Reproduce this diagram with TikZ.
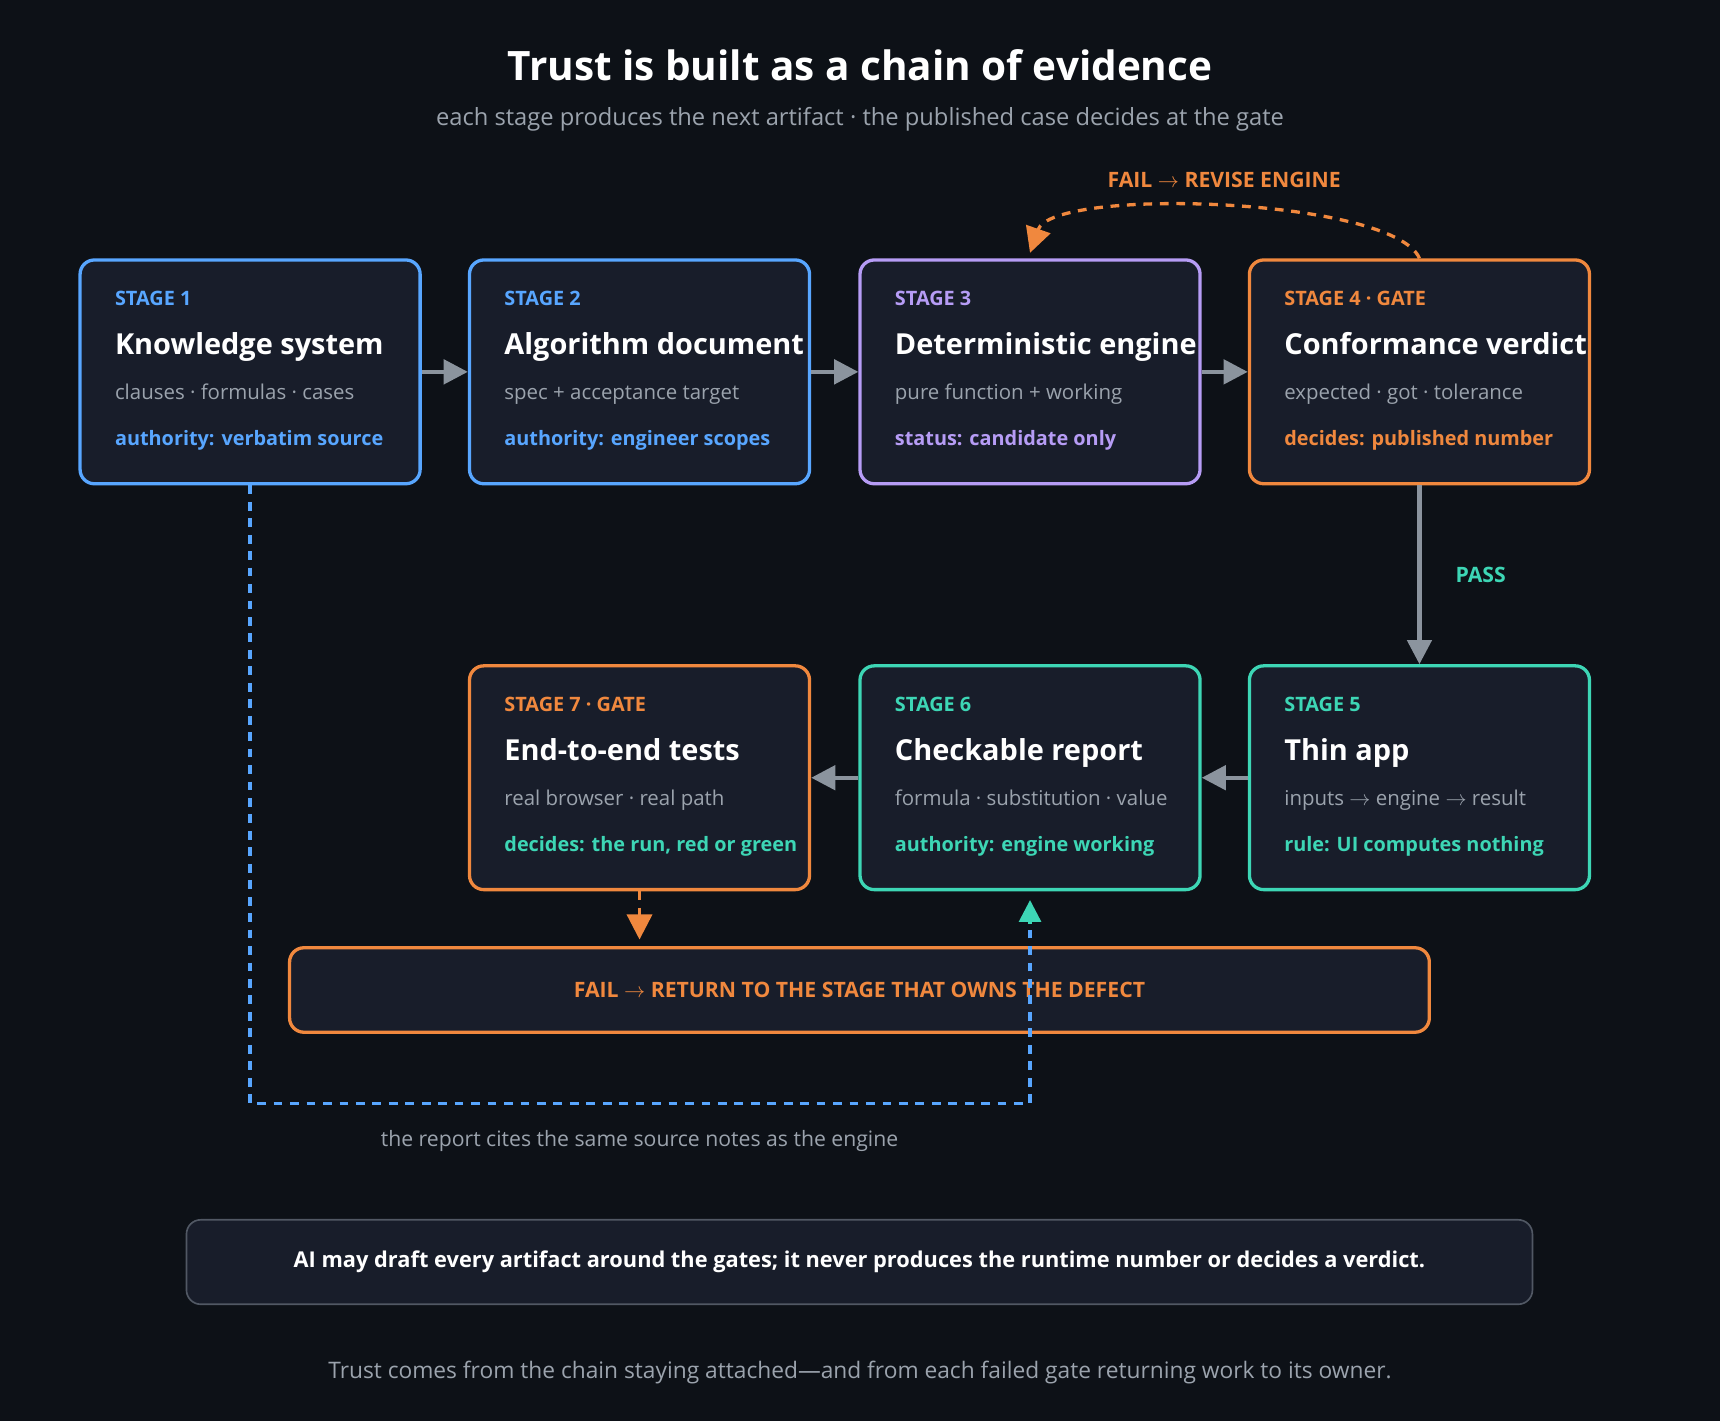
\documentclass[tikz,border=0pt]{standalone}
\usepackage{fontspec}
\setmainfont{Open Sans}
\usetikzlibrary{arrows.meta,positioning}
\definecolor{bg}{HTML}{0D1117}
\definecolor{boxbg}{HTML}{181D2A}
\definecolor{cblue}{HTML}{58A6FF}
\definecolor{cpurple}{HTML}{B69CF5}
\definecolor{corange}{HTML}{F0883E}
\definecolor{cteal}{HTML}{3DD6B5}
\definecolor{cgray}{HTML}{8B949E}
\definecolor{ctext}{HTML}{9BA3AD}
\newcommand{\ar}{$\rightarrow$}
\tikzset{
  stage/.style={draw=#1, line width=0.6mm, rounded corners=2.6mm, fill=boxbg,
    minimum width=62mm, minimum height=40.8mm, inner sep=0pt},
  lbl/.style={anchor=base west, inner sep=0pt, font=\fontsize{10.3}{12}\selectfont\bfseries},
  ttl/.style={anchor=base west, inner sep=0pt, text=white, font=\fontsize{15}{18}\selectfont\bfseries},
  sub/.style={anchor=base west, inner sep=0pt, text=ctext, font=\fontsize{10.6}{13}\selectfont},
  flow/.style={draw=cgray, line width=0.8mm, -{Triangle[length=4.4mm,width=4.4mm]}},
  dashline/.style={line width=0.6mm, dash pattern=on 1.6mm off 1.4mm},
}
% one stage box with its four lines of text
\newcommand{\stagebox}[7]{%
  \node[stage=#3] (#1) at #2 {};
  \node[lbl, text=#3] (#1l) at ([xshift=6.6mm,yshift=-8.6mm]#1.north west) {#4};
  \node[ttl] (#1t) at ([xshift=6.6mm,yshift=-17.6mm]#1.north west) {#5};
  \node[sub] (#1s) at ([xshift=6.6mm,yshift=-25.8mm]#1.north west) {#6};
  \node[lbl, text=#3] (#1a) at ([xshift=6.6mm,yshift=-34.2mm]#1.north west) {#7};
}
\begin{document}
\begin{tikzpicture}[x=0.2mm,y=-0.2mm]
\useasboundingbox[fill=bg] (0,0) rectangle (1568,1295);
\node[text=white, font=\fontsize{21}{25}\selectfont\bfseries] (title) at (784,59) {Trust is built as a chain of evidence};
\node[text=ctext, font=\fontsize{12.3}{15}\selectfont] (subtitle) at (784,109) {each stage produces the next artifact · the published case decides at the gate};

\stagebox{s1}{(228,339)}{cblue}{STAGE 1}{Knowledge system}{clauses · formulas · cases}{authority: verbatim source}
\stagebox{s2}{(583,339)}{cblue}{STAGE 2}{Algorithm document}{spec + acceptance target}{authority: engineer scopes}
\stagebox{s3}{(939,339)}{cpurple}{STAGE 3}{Deterministic engine}{pure function + working}{status: candidate only}
\stagebox{s4}{(1294,339)}{corange}{STAGE 4 · GATE}{Conformance verdict}{expected · got · tolerance}{decides: published number}
\stagebox{s7}{(583,709)}{corange}{STAGE 7 · GATE}{End-to-end tests}{real browser · real path}{\color{cteal}decides: the run, red or green}
\stagebox{s6}{(939,709)}{cteal}{STAGE 6}{Checkable report}{formula · substitution · value}{authority: engine working}
\stagebox{s5}{(1294,709)}{cteal}{STAGE 5}{Thin app}{inputs \ar{} engine \ar{} result}{rule: UI computes nothing}

% main chain
\draw[flow] (s1) -- (s2);
\draw[flow] (s2) -- (s3);
\draw[flow] (s3) -- (s4);
\draw[flow] (s4) -- node[right=5mm, text=cteal, font=\fontsize{11}{13}\selectfont\bfseries] (pass) {PASS} (s5);
\draw[flow] (s5) -- (s6);
\draw[flow] (s6) -- (s7);

% revise loop
\draw[dashline, draw=corange, -{Triangle[length=4.6mm,width=4.6mm]}] (s4.north) .. controls (1270,180) and (960,170) .. ([yshift=1mm]s3.north);
\node[text=corange, font=\fontsize{11}{13}\selectfont\bfseries] (revise) at (1116,164) {FAIL \ar{} REVISE ENGINE};

% failure bar
\node[draw=corange, line width=0.6mm, rounded corners=2.6mm, fill=boxbg, minimum width=207.8mm, minimum height=15.4mm,
  text=corange, font=\fontsize{11}{13}\selectfont\bfseries] (fail) at (783.5,902.5) {FAIL \ar{} RETURN TO THE STAGE THAT OWNS THE DEFECT};
\draw[dashline, draw=corange, -{Triangle[length=4.6mm,width=4.6mm]}] (s7.south) -- ([yshift=1.2mm]fail.north -| s7.south);

% source notes link
\coordinate (rc) at (939,1006);
\coordinate (rt) at (939,842);
\draw[dashline, draw=cblue] (s1.south) |- (rc) -- (rt);
\draw[draw=cteal, line width=0.6mm, -{Triangle[length=4mm,width=4mm]}] (rt) -- ([yshift=-1.6mm]s6.south);
\node[text=ctext, font=\fontsize{11}{13}\selectfont] (cite) at (583,1040) {the report cites the same source notes as the engine};

% note and footer
\node[draw=cgray!50!boxbg, line width=0.3mm, rounded corners=2.6mm, fill=boxbg, minimum width=245.4mm, minimum height=15.4mm,
  text=white, font=\fontsize{11.3}{14}\selectfont\bfseries] (note) at (783.5,1150.5) {AI may draft every artifact around the gates; it never produces the runtime number or decides a verdict.};
\node[text=ctext, font=\fontsize{11.8}{15}\selectfont] (footer) at (784,1251) {Trust comes from the chain staying attached—and from each failed gate returning work to its owner.};
\end{tikzpicture}
\end{document}
